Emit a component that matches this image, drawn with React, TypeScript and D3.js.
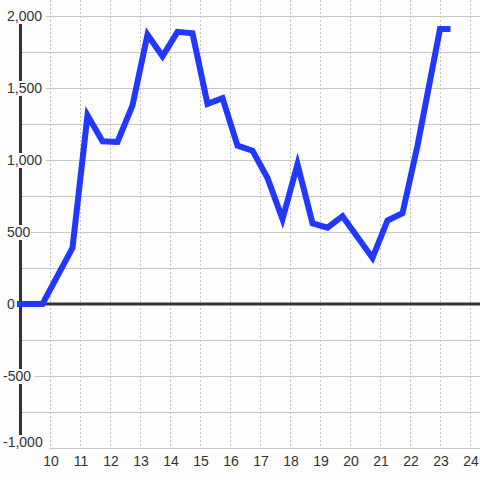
import React from "react";
import * as d3 from "d3";

const hours = [9.0, 9.75, 10.75, 11.25, 11.75, 12.25, 12.75, 13.25, 13.75, 14.25, 14.75, 15.25, 15.75, 16.25, 16.75, 17.25, 17.75, 18.25, 18.75, 19.25, 19.75, 20.75, 21.25, 21.75, 22.25, 22.75, 23.0, 23.25];
const values = [0, 0, 390, 1310, 1130, 1125, 1380, 1870, 1720, 1890, 1880, 1390, 1430, 1100, 1065, 875, 590, 970, 560, 530, 610, 320, 580, 630, 1100, 1640, 1910, 1910];
const xTicks = [10, 11, 12, 13, 14, 15, 16, 17, 18, 19, 20, 21, 22, 23, 24];
const yLabelTicks = [2000, 1500, 1000, 500, 0, -500, -1000];
const yGridTicks = [2000, 1750, 1500, 1250, 1000, 750, 500, 250, 0, -250, -500, -750, -1000];

const W = 480;
const H = 480;
const BG = "#fcfdfc";
const TEXT = "#333333";

export default function App() {
  const x = d3.scaleLinear().domain([9, 24]).range([20, 470]);
  const y = d3.scaleLinear().domain([-1000, 2000]).range([448, 16]);
  const pts: [number, number][] = hours.map((h, i) => [h, values[i]]);
  const line = d3
    .line<[number, number]>()
    .x((d) => x(d[0]))
    .y((d) => y(d[1]));
  const fmt = d3.format(",");

  return (
    <svg
      width={W}
      height={H}
      style={{ position: "fixed", left: 0, top: 0, display: "block" }}
      fontFamily="'Liberation Sans', Arial, sans-serif"
    >
      <rect x={0} y={0} width={W} height={H} fill={BG} />
      {xTicks.map((t) => (
        <line
          key={"vx" + t}
          x1={x(t) + 0.5}
          x2={x(t) + 0.5}
          y1={0}
          y2={448}
          stroke="#c4c4c4"
          strokeWidth={1}
          strokeDasharray="2,2"
        />
      ))}
      {yGridTicks.map((t) => (
        <line
          key={"hy" + t}
          x1={20}
          x2={W}
          y1={y(t) + 0.5}
          y2={y(t) + 0.5}
          stroke="#c8c8c8"
          strokeWidth={1}
        />
      ))}
      <line x1={20.5} x2={20.5} y1={16} y2={448} stroke={TEXT} strokeWidth={3} />
      <line x1={20} x2={W} y1={y(0)} y2={y(0)} stroke={TEXT} strokeWidth={3} />
      <path
        d={line(pts) || ""}
        fill="none"
        stroke="#2139ff"
        strokeWidth={6}
        strokeLinejoin="miter"
        strokeLinecap="square"
      />
      {yLabelTicks.map((t) => {
        const label = fmt(t).replace("−", "-");
        const tx = t < 0 ? 3 : 7;
        const w = label.length * 7.6 + 2;
        const ly = t === -1000 ? y(t) - 6 : y(t);
        return (
          <g key={"yl" + t}>
            <rect x={tx - 1} y={ly - 7} width={w} height={15} fill={BG} />
            <text
              x={tx}
              y={ly}
              dy="0.36em"
              fontSize={14}
              fill={TEXT}
              textAnchor="start"
            >
              {label}
            </text>
          </g>
        );
      })}
      {xTicks.map((t) => (
        <text
          key={"xl" + t}
          x={x(t) + 1}
          y={461}
          dy="0.36em"
          fontSize={14}
          fill={TEXT}
          textAnchor="middle"
        >
          {t}
        </text>
      ))}
    </svg>
  );
}
